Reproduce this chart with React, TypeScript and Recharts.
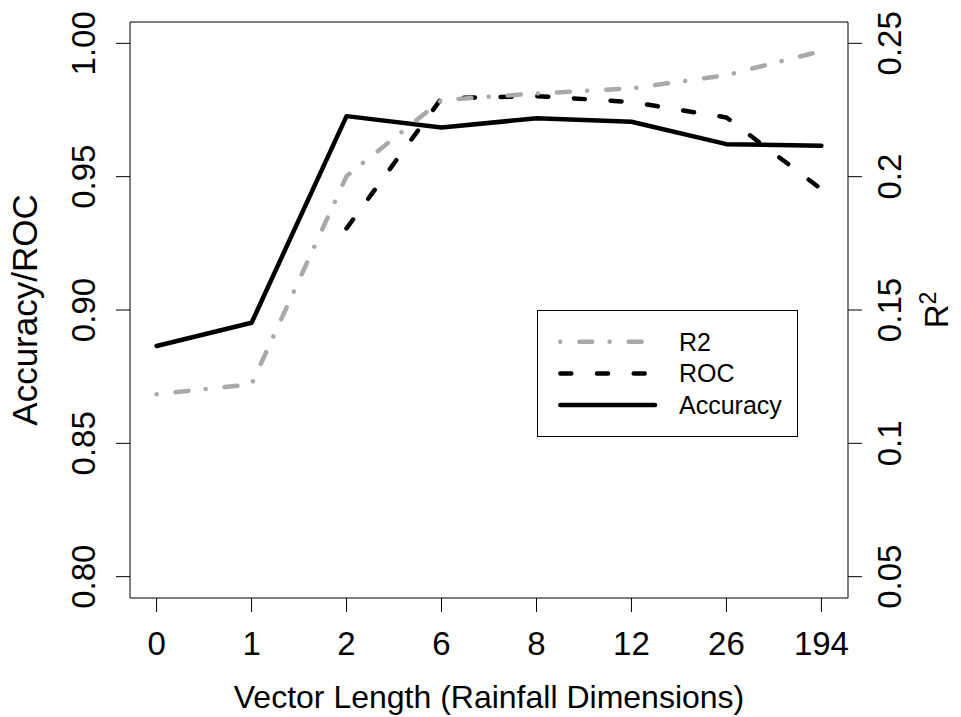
import React from 'react';
import { LineChart, Line, XAxis, YAxis } from 'recharts';

const FONT = '"Liberation Sans", Arial, Helvetica, sans-serif';

// ---- data ----
const categories = ['0', '1', '2', '6', '8', '12', '26', '194'];
const accuracy = [0.8865, 0.8952, 0.9727, 0.9684, 0.9719, 0.9706, 0.9622, 0.9616];
const roc: (number | null)[] = [null, null, 0.9306, 0.9794, 0.9802, 0.978, 0.9722, 0.9453];
const r2 = [0.1184, 0.1222, 0.2002, 0.2287, 0.2312, 0.2331, 0.2381, 0.2471];
const leftTicks = [0.8, 0.85, 0.9, 0.95, 1.0];
const rightTicks = [0.05, 0.1, 0.15, 0.2, 0.25];
const seriesNames = ['R2', 'ROC', 'Accuracy'];

const xIdx = categories.map((_, i) => i);
const data = categories.map((c, i) => ({ idx: i, cat: c, acc: accuracy[i], roc: roc[i], r2: r2[i] }));

// R-style 4% axis expansion
const ext = (lo: number, hi: number): [number, number] => {
  const d = (hi - lo) * 0.04;
  return [lo - d, hi + d];
};
const xDomain = ext(0, categories.length - 1);
const leftDomain = ext(0.8, 1.0);
const rightDomain = ext(0.05, 0.25);

const GRAY = '#A9A9A9';
const LW = 4.5;
const DOTDASH = '0.01 19 13 17.3';
const DASHED = '11 25.7';

const W = 961;
const H = 717;
const TICK_FS = 33;
const PLOT = { left: 130, right: 848, top: 22, bottom: 598 };

const BottomTick = (props: any) => {
  const { x, y, payload } = props;
  return (
    <text x={x} y={y + 41} textAnchor="middle" fontSize={TICK_FS} fontFamily={FONT} fill="#000">
      {categories[payload.value]}
    </text>
  );
};

const LeftTick = (props: any) => {
  const { x, y, payload } = props;
  const bx = x - 19;
  return (
    <text x={bx} y={y} transform={`rotate(-90, ${bx}, ${y})`} textAnchor="middle" fontSize={TICK_FS} fontFamily={FONT} fill="#000">
      {Number(payload.value).toFixed(2)}
    </text>
  );
};

const RightTick = (props: any) => {
  const { x, y, payload } = props;
  const bx = x + 37;
  return (
    <text x={bx} y={y} transform={`rotate(-90, ${bx}, ${y})`} textAnchor="middle" fontSize={TICK_FS} fontFamily={FONT} fill="#000">
      {String(Number(payload.value))}
    </text>
  );
};

const legendStyles = [
  { stroke: GRAY, dash: DOTDASH },
  { stroke: '#000', dash: DASHED },
  { stroke: '#000', dash: undefined as string | undefined },
];

export default function App() {
  return (
    <div style={{ position: 'absolute', left: 0, top: 0, width: W, height: H, background: '#fff', fontFamily: FONT }}>
      <LineChart
        width={W}
        height={H}
        data={data}
        margin={{ top: PLOT.top, right: 0, bottom: 0, left: 0 }}
      >
        <XAxis
          dataKey="idx"
          type="number"
          domain={xDomain}
          allowDataOverflow
          ticks={xIdx}
          height={H - PLOT.bottom}
          tickSize={14}
          tickLine={{ stroke: '#000', strokeWidth: 1 }}
          axisLine={{ stroke: '#000', strokeWidth: 1 }}
          tick={<BottomTick />}
          interval={0}
        />
        <YAxis
          yAxisId="left"
          type="number"
          domain={leftDomain}
          allowDataOverflow
          ticks={leftTicks}
          width={PLOT.left}
          tickSize={14}
          tickLine={{ stroke: '#000', strokeWidth: 1 }}
          axisLine={{ stroke: '#000', strokeWidth: 1 }}
          tick={<LeftTick />}
          interval={0}
        />
        <YAxis
          yAxisId="right"
          orientation="right"
          type="number"
          domain={rightDomain}
          allowDataOverflow
          ticks={rightTicks}
          width={W - PLOT.right}
          tickSize={14}
          tickLine={{ stroke: '#000', strokeWidth: 1 }}
          axisLine={{ stroke: '#000', strokeWidth: 1 }}
          tick={<RightTick />}
          interval={0}
        />
        <Line
          yAxisId="left"
          dataKey="acc"
          name="Accuracy"
          type="linear"
          stroke="#000"
          strokeWidth={LW}
          strokeLinecap="round"
          strokeLinejoin="round"
          dot={false}
          activeDot={false}
          isAnimationActive={false}
        />
        <Line
          yAxisId="left"
          dataKey="roc"
          name="ROC"
          type="linear"
          stroke="#000"
          strokeWidth={LW}
          strokeDasharray={DASHED}
          strokeLinecap="round"
          strokeLinejoin="round"
          dot={false}
          activeDot={false}
          connectNulls={false}
          isAnimationActive={false}
        />
        <Line
          yAxisId="right"
          dataKey="r2"
          name="R2"
          type="linear"
          stroke={GRAY}
          strokeWidth={LW}
          strokeDasharray={DOTDASH}
          strokeLinecap="round"
          strokeLinejoin="round"
          dot={false}
          activeDot={false}
          isAnimationActive={false}
        />
      </LineChart>
      <svg width={W} height={H} style={{ position: 'absolute', left: 0, top: 0, pointerEvents: 'none' }}>
        {/* top edge of the plot box (R box()) */}
        <line x1={PLOT.left} x2={PLOT.right} y1={PLOT.top} y2={PLOT.top} stroke="#000" strokeWidth={1} />
        <text x={489} y={708} textAnchor="middle" fontSize={32} fontFamily={FONT} fill="#000">
          Vector Length (Rainfall Dimensions)
        </text>
        <text transform="translate(37,310) rotate(-90)" textAnchor="middle" fontSize={35} fontFamily={FONT} fill="#000">
          Accuracy/ROC
        </text>
        <text transform="translate(948,310) rotate(-90)" textAnchor="middle" fontSize={33} fontFamily={FONT} fill="#000">
          R<tspan dy={-12} fontSize={23}>2</tspan>
        </text>
        <g>
          <rect x={537.5} y={310.5} width={260} height={126} fill="#fff" stroke="#000" strokeWidth={1} />
          {seriesNames.map((name, i) => {
            const cy = 341.7 + i * 31.7;
            const st = legendStyles[i];
            return (
              <g key={name}>
                <line
                  x1={560.3}
                  x2={655}
                  y1={cy}
                  y2={cy}
                  stroke={st.stroke}
                  strokeWidth={LW}
                  strokeDasharray={st.dash}
                  strokeLinecap="round"
                />
                <text x={679} y={cy + 9} fontSize={25} fontFamily={FONT} fill="#000">
                  {name}
                </text>
              </g>
            );
          })}
        </g>
      </svg>
    </div>
  );
}
